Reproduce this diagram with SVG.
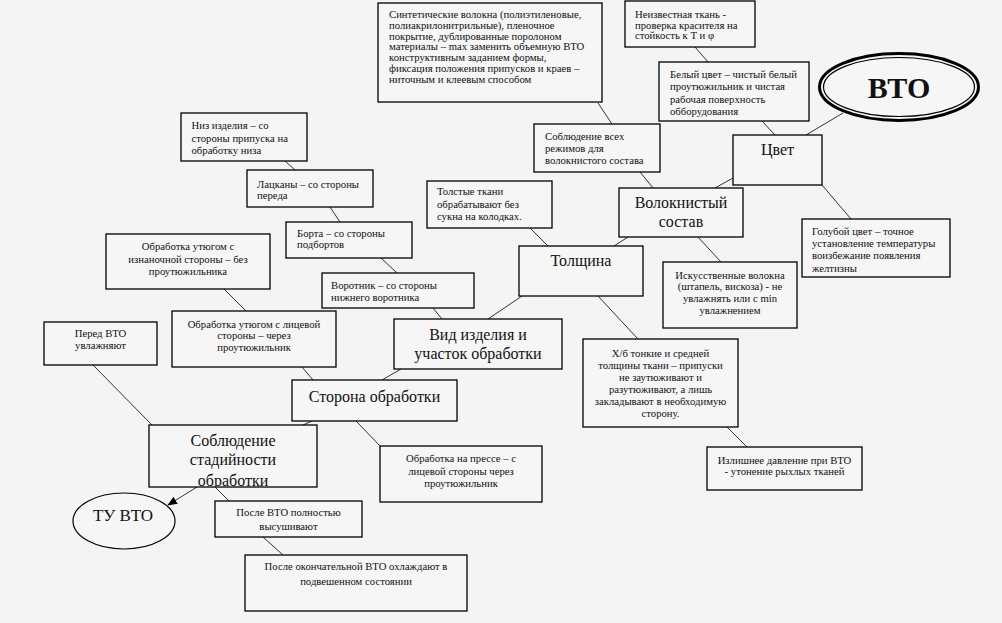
<svg xmlns="http://www.w3.org/2000/svg" width="1002" height="623" viewBox="0 0 1002 623">
<style>
.b{fill:#f6f6f6;stroke:#000;stroke-width:1.3}
.t{font-family:'Liberation Serif','Times New Roman',serif;font-size:10.7px;fill:#111}
.c{text-anchor:middle}
.L{font-size:16px}
.conn line{stroke:#333;stroke-width:1}
</style>
<defs>
<marker id="ah" markerWidth="10" markerHeight="8" refX="9" refY="4" orient="auto" markerUnits="userSpaceOnUse">
<path d="M0,0 L10,4 L0,8 Z" fill="#000"/>
</marker>
<clipPath id="clipS"><rect x="149" y="425" width="168" height="61.4"/></clipPath>
</defs>
<rect width="1002" height="623" fill="#f4f4f4"/>
<g id="connectors" class="conn">
<line x1="843" y1="113" x2="806" y2="135"/>
<line x1="695" y1="47" x2="708" y2="62"/>
<line x1="762" y1="121" x2="775" y2="135"/>
<line x1="822" y1="185" x2="851" y2="219"/>
<line x1="733" y1="178" x2="715" y2="188"/>
<line x1="598" y1="103" x2="612" y2="124"/>
<line x1="640" y1="172" x2="653" y2="188"/>
<line x1="698" y1="237" x2="721" y2="262"/>
<line x1="628" y1="237" x2="614" y2="246"/>
<line x1="530" y1="228" x2="548" y2="246"/>
<line x1="598" y1="296" x2="638" y2="339"/>
<line x1="727" y1="427" x2="747" y2="447"/>
<line x1="522" y1="296" x2="488" y2="319"/>
<line x1="285" y1="161" x2="295" y2="170"/>
<line x1="330" y1="207" x2="340" y2="222"/>
<line x1="381" y1="258" x2="397" y2="273"/>
<line x1="433" y1="308" x2="442" y2="319"/>
<line x1="401" y1="369" x2="382" y2="380"/>
<line x1="224" y1="289" x2="246" y2="311"/>
<line x1="302" y1="367" x2="313" y2="380"/>
<line x1="356" y1="421" x2="380" y2="446"/>
<line x1="312" y1="421" x2="303" y2="425"/>
<line x1="93" y1="365" x2="152" y2="425"/>
<line x1="215" y1="487" x2="229" y2="501"/>
<line x1="263" y1="537" x2="283" y2="555"/>
<line x1="197" y1="487" x2="168" y2="505" marker-end="url(#ah)"/>
</g>
<g id="vto">
<ellipse cx="899" cy="87" rx="79.5" ry="33.5" fill="#f6f6f6" stroke="#000" stroke-width="3"/>
<ellipse cx="899" cy="87" rx="75.5" ry="29.5" fill="none" stroke="#000" stroke-width="1.2"/>
<text class="t c" x="899" y="98" style="font-size:30px;font-weight:bold">ВТО</text>
</g>
<g id="tu-vto">
<ellipse cx="124" cy="521" rx="51" ry="28" fill="#f6f6f6" stroke="#000" stroke-width="1.2"/>
<text class="t c" x="123" y="521" style="font-size:17px">ТУ ВТО</text>
</g>
<g id="sintetika">
<rect class="b" x="378" y="3" width="224" height="99"/>
<text class="t" x="389" y="18"><tspan x="389">Синтетические волокна (полиэтиленовые,</tspan><tspan x="389" dy="10.8">полиакрилонитрильные), пленочное</tspan><tspan x="389" dy="10.8">покрытие, дублированные поролоном</tspan><tspan x="389" dy="10.8">материалы – max заменить объемную ВТО</tspan><tspan x="389" dy="10.8">конструктивным заданием формы,</tspan><tspan x="389" dy="10.8">фиксация положения припусков и краев –</tspan><tspan x="389" dy="10.8">ниточным и клеевым способом</tspan></text>
</g>
<g id="neizv">
<rect class="b" x="625" y="1" width="130" height="46"/>
<text class="t" x="635" y="18"><tspan x="635">Неизвестная ткань -</tspan><tspan x="635" dy="10.7">проверка красителя на</tspan><tspan x="635" dy="10.7">стойкость к Т и φ</tspan></text>
</g>
<g id="bely">
<rect class="b" x="659" y="62" width="150" height="59"/>
<text class="t" x="670" y="77.5"><tspan x="670">Белый цвет – чистый белый</tspan><tspan x="670" dy="12.5">проутюжильник и чистая</tspan><tspan x="670" dy="12.5">рабочая поверхность</tspan><tspan x="670" dy="12.5">обборудования</tspan></text>
</g>
<g id="cvet">
<rect class="b" x="733" y="135" width="89" height="50"/>
<text class="t c L" x="777.5" y="155">Цвет</text>
</g>
<g id="goluboy">
<rect class="b" x="802" y="219" width="148" height="58"/>
<text class="t" x="812" y="235"><tspan x="812">Голубой цвет – точное</tspan><tspan x="812" dy="12.2">установление температуры</tspan><tspan x="812" dy="12.2">воизбежание появления</tspan><tspan x="812" dy="12.2">желтизны</tspan></text>
</g>
<g id="soblyud-vseh">
<rect class="b" x="534" y="124" width="126" height="48"/>
<text class="t" x="545" y="139.5"><tspan x="545">Соблюдение всех</tspan><tspan x="545" dy="12">режимов для</tspan><tspan x="545" dy="12">волокнистого состава</tspan></text>
</g>
<g id="voloknisty">
<rect class="b" x="619" y="188" width="124" height="49"/>
<text class="t c L" x="681" y="208"><tspan x="681">Волокнистый</tspan><tspan x="681" dy="19">состав</tspan></text>
</g>
<g id="iskusstv">
<rect class="b" x="663" y="262" width="134" height="66"/>
<text class="t c" x="730" y="278.5"><tspan x="730">Искусственные волокна</tspan><tspan x="730" dy="11.8">(штапель, вискоза) - не</tspan><tspan x="730" dy="11.8">увлажнять или с min</tspan><tspan x="730" dy="11.8">увлажнением</tspan></text>
</g>
<g id="tolstye">
<rect class="b" x="427" y="181" width="125" height="47"/>
<text class="t" x="437" y="195"><tspan x="437">Толстые ткани</tspan><tspan x="437" dy="12.7">обрабатывают без</tspan><tspan x="437" dy="12.7">сукна на колодках.</tspan></text>
</g>
<g id="tolshina">
<rect class="b" x="519" y="246" width="124" height="50"/>
<text class="t c L" x="581" y="266">Толщина</text>
</g>
<g id="hb">
<rect class="b" x="583" y="339" width="155" height="88"/>
<text class="t c" x="660.5" y="357"><tspan x="660.5">Х/б тонкие и средней</tspan><tspan x="660.5" dy="12">толщины ткани – припуски</tspan><tspan x="660.5" dy="12">не заутюживают и</tspan><tspan x="660.5" dy="12">разутюживают, а лишь</tspan><tspan x="660.5" dy="12">закладывают в необходимую</tspan><tspan x="660.5" dy="12">сторону.</tspan></text>
</g>
<g id="izlishnee">
<rect class="b" x="707" y="447" width="155" height="43"/>
<text class="t c" x="784.5" y="463.5"><tspan x="784.5">Излишнее давление при ВТО</tspan><tspan x="784.5" dy="11.7">- утонение рыхлых тканей</tspan></text>
</g>
<g id="niz">
<rect class="b" x="181" y="113" width="126" height="48"/>
<text class="t" x="191.5" y="129"><tspan x="191.5">Низ изделия – со</tspan><tspan x="191.5" dy="12.5">стороны припуска на</tspan><tspan x="191.5" dy="12.5">обработку низа</tspan></text>
</g>
<g id="lackany">
<rect class="b" x="247" y="170" width="126" height="37"/>
<text class="t" x="257" y="187.5"><tspan x="257">Лацканы – со стороны</tspan><tspan x="257" dy="11">переда</tspan></text>
</g>
<g id="borta">
<rect class="b" x="286" y="222" width="126" height="36"/>
<text class="t" x="297" y="236.5"><tspan x="297">Борта – со стороны</tspan><tspan x="297" dy="11.5">подбортов</tspan></text>
</g>
<g id="vorotnik">
<rect class="b" x="322" y="273" width="152" height="35"/>
<text class="t" x="331" y="288.5"><tspan x="331">Воротник – со стороны</tspan><tspan x="331" dy="12.5">нижнего воротника</tspan></text>
</g>
<g id="vid">
<rect class="b" x="394" y="319" width="168" height="50"/>
<text class="t c L" x="478" y="340"><tspan x="478">Вид изделия и</tspan><tspan x="478" dy="19">участок обработки</tspan></text>
</g>
<g id="iznanka">
<rect class="b" x="106" y="234" width="164" height="55"/>
<text class="t c" x="188" y="250"><tspan x="188">Обработка утюгом с</tspan><tspan x="188" dy="12.5">изнаночной стороны – без</tspan><tspan x="188" dy="12.5">проутюжильника</tspan></text>
</g>
<g id="licevaya">
<rect class="b" x="172" y="311" width="164" height="56"/>
<text class="t c" x="254" y="327.5"><tspan x="254">Обработка утюгом с лицевой</tspan><tspan x="254" dy="11.8">стороны – через</tspan><tspan x="254" dy="11.8">проутюжильник</tspan></text>
</g>
<g id="storona">
<rect class="b" x="292" y="380" width="165" height="41"/>
<text class="t c L" x="374.5" y="402">Сторона обработки</text>
</g>
<g id="press">
<rect class="b" x="380" y="446" width="162" height="56"/>
<text class="t c" x="461" y="462"><tspan x="461">Обработка на прессе – с</tspan><tspan x="461" dy="12.5">лицевой стороны через</tspan><tspan x="461" dy="12.5">проутюжильник</tspan></text>
</g>
<g id="pered">
<rect class="b" x="44" y="322" width="113" height="43"/>
<text class="t c" x="100.5" y="337"><tspan x="100.5">Перед ВТО</tspan><tspan x="100.5" dy="11.5">увлажняют</tspan></text>
</g>
<g id="stadiynost">
<rect class="b" x="149" y="425" width="168" height="62"/>
<text class="t c L" x="233" y="446" clip-path="url(#clipS)"><tspan x="233">Соблюдение</tspan><tspan x="233" dy="19">стадийности</tspan><tspan x="233" dy="21">обработки</tspan></text>
</g>
<g id="posle-vto">
<rect class="b" x="215" y="501" width="147" height="36"/>
<text class="t c" x="288.5" y="516"><tspan x="288.5">После ВТО полностью</tspan><tspan x="288.5" dy="13.5">высушивают</tspan></text>
</g>
<g id="posle-okonch">
<rect class="b" x="245" y="555" width="222" height="56"/>
<text class="t c" x="356" y="570"><tspan x="356">После окончательной ВТО охлаждают в</tspan><tspan x="356" dy="14.5">подвешенном состоянии</tspan></text>
</g>
</svg>
